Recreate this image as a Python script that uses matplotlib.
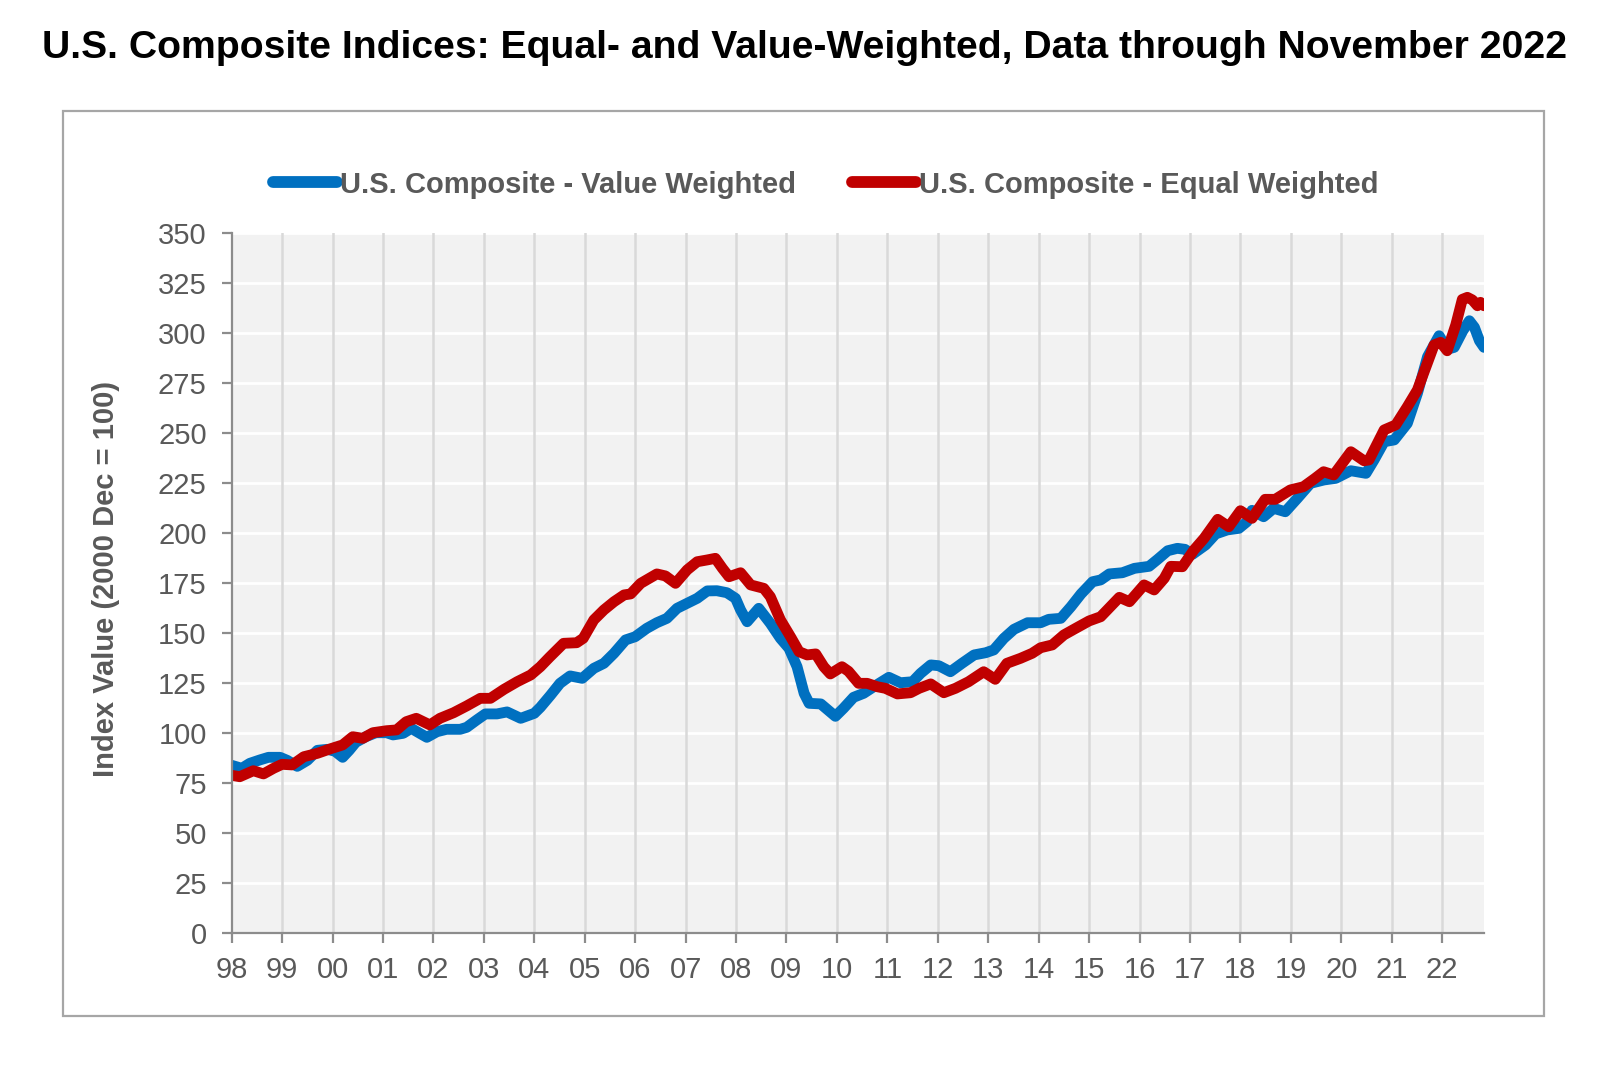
import matplotlib.pyplot as plt
import matplotlib.patches as pch


# values (decimal year, index value)
vw_year = [
    1998.00, 1998.20, 1998.36, 1998.56, 1998.73, 1998.96, 1999.10, 1999.30, 1999.50, 1999.70,
    1999.90, 2000.05, 2000.20, 2000.33, 2000.46, 2000.66, 2000.86, 2001.07, 2001.20, 2001.40,
    2001.56, 2001.73, 2001.87, 2002.07, 2002.26, 2002.53, 2002.66, 2002.86, 2003.03, 2003.26,
    2003.46, 2003.73, 2004.00, 2004.12, 2004.32, 2004.51, 2004.71, 2004.95, 2005.18, 2005.38,
    2005.58, 2005.81, 2006.00, 2006.23, 2006.43, 2006.63, 2006.83, 2007.03, 2007.23, 2007.43,
    2007.62, 2007.82, 2007.99, 2008.09, 2008.22, 2008.45, 2008.68, 2008.88, 2009.05, 2009.21,
    2009.35, 2009.45, 2009.68, 2009.97, 2010.13, 2010.33, 2010.53, 2010.73, 2011.03, 2011.26,
    2011.50, 2011.66, 2011.86, 2012.02, 2012.25, 2012.48, 2012.72, 2012.95, 2013.11, 2013.31,
    2013.51, 2013.78, 2014.04, 2014.20, 2014.44, 2014.64, 2014.84, 2015.07, 2015.23, 2015.40,
    2015.66, 2015.90, 2016.19, 2016.36, 2016.56, 2016.75, 2016.90, 2017.05, 2017.31, 2017.51,
    2017.74, 2017.97, 2018.13, 2018.23, 2018.46, 2018.66, 2018.89, 2019.13, 2019.39, 2019.66,
    2019.89, 2020.19, 2020.49, 2020.65, 2020.85, 2021.05, 2021.31, 2021.51, 2021.71, 2021.94,
    2022.10, 2022.24, 2022.41, 2022.54, 2022.64, 2022.74, 2022.83,
]
vw_value = [
    84.0, 82.5, 85.0, 86.7, 88.0, 88.0, 86.5, 83.5, 86.5, 91.5,
    92.0, 91.0, 88.0, 91.5, 95.5, 98.3, 100.3, 100.3, 99.2, 100.0,
    102.5, 100.0, 98.0, 100.8, 102.0, 102.0, 103.0, 106.7, 109.7, 109.7,
    110.7, 107.5, 110.0, 113.0, 119.0, 125.0, 128.7, 127.5, 132.5, 135.0,
    140.0, 146.7, 148.3, 152.5, 155.3, 157.5, 162.5, 165.0, 167.5, 171.2,
    171.3, 170.3, 167.5, 161.7, 155.8, 162.5, 155.0, 147.5, 142.5, 133.3,
    120.0, 115.0, 114.7, 108.5, 112.5, 118.0, 120.0, 123.3, 128.0, 125.3,
    125.8, 130.0, 134.2, 133.8, 130.8, 135.0, 139.2, 140.3, 141.7, 147.5,
    152.0, 155.3, 155.3, 157.0, 157.5, 163.3, 169.7, 175.8, 176.7, 179.7,
    180.3, 182.5, 183.5, 187.0, 191.3, 192.5, 192.0, 189.5, 194.2, 199.7,
    201.7, 202.5, 205.8, 211.5, 208.3, 212.5, 210.8, 217.5, 225.0, 226.7,
    227.5, 231.3, 230.0, 236.7, 245.8, 246.7, 255.0, 270.0, 288.3, 298.8,
    292.0, 293.0, 301.3, 306.3, 303.0, 296.3, 293.0,
]

ew_year = [
    1998.00, 1998.16, 1998.43, 1998.63, 1998.83, 1999.00, 1999.20, 1999.43, 1999.70, 1999.95,
    2000.20, 2000.40, 2000.60, 2000.80, 2001.07, 2001.27, 2001.46, 2001.66, 2001.93, 2002.13,
    2002.40, 2002.66, 2002.93, 2003.13, 2003.40, 2003.66, 2003.93, 2004.12, 2004.30, 2004.58,
    2004.84, 2004.97, 2005.18, 2005.38, 2005.58, 2005.78, 2005.91, 2006.11, 2006.43, 2006.60,
    2006.80, 2007.03, 2007.23, 2007.43, 2007.59, 2007.73, 2007.86, 2008.09, 2008.29, 2008.55,
    2008.68, 2008.88, 2009.08, 2009.25, 2009.41, 2009.58, 2009.74, 2009.87, 2010.10, 2010.23,
    2010.43, 2010.60, 2010.80, 2010.96, 2011.20, 2011.46, 2011.63, 2011.86, 2012.12, 2012.35,
    2012.61, 2012.91, 2013.14, 2013.37, 2013.64, 2013.87, 2014.04, 2014.27, 2014.50, 2014.77,
    2015.00, 2015.23, 2015.36, 2015.60, 2015.80, 2016.09, 2016.29, 2016.49, 2016.62, 2016.85,
    2017.08, 2017.28, 2017.55, 2017.77, 2018.00, 2018.23, 2018.49, 2018.69, 2018.99, 2019.25,
    2019.48, 2019.65, 2019.85, 2020.19, 2020.45, 2020.55, 2020.85, 2021.08, 2021.31, 2021.51,
    2021.68, 2021.84, 2021.97, 2022.10, 2022.27, 2022.40, 2022.50, 2022.60, 2022.70, 2022.76,
    2022.83,
]
ew_value = [
    79.0, 78.3, 81.3, 79.7, 82.5, 84.5, 84.2, 88.3, 90.0, 92.2,
    94.2, 98.3, 97.5, 100.3, 101.3, 101.7, 105.8, 107.5, 104.2, 107.5,
    110.3, 113.7, 117.5, 117.5, 122.0, 125.8, 129.2, 133.3, 138.0, 145.0,
    145.3, 147.5, 156.7, 161.7, 165.8, 169.2, 169.7, 175.0, 179.7, 178.7,
    175.0, 181.7, 185.8, 186.7, 187.5, 182.5, 178.3, 180.3, 174.2, 172.5,
    168.3, 156.7, 148.3, 140.8, 139.2, 139.7, 133.3, 129.7, 133.3, 131.0,
    125.0, 125.0, 123.3, 122.5, 119.7, 120.3, 122.5, 124.7, 120.3, 122.5,
    125.8, 130.8, 127.0, 135.0, 137.5, 140.0, 142.8, 144.2, 149.2, 153.0,
    156.2, 158.3, 161.7, 168.0, 165.8, 174.2, 171.7, 177.5, 183.5, 183.3,
    191.7, 197.5, 207.0, 203.3, 211.3, 207.5, 217.0, 217.0, 221.7, 223.3,
    227.5, 230.8, 229.2, 240.8, 236.3, 236.7, 251.7, 254.2, 263.3, 271.7,
    283.3, 294.2, 295.5, 291.3, 304.2, 317.0, 318.0, 316.7, 313.8, 315.5,
    313.8,
]

tick_years = list(range(1998, 2023))
tick_labels = ['%02d' % (y % 100) for y in tick_years]
y_ticks = list(range(0, 351, 25))

title = 'U.S. Composite Indices: Equal- and Value-Weighted, Data through November 2022'
label_vw = 'U.S. Composite - Value Weighted'
label_ew = 'U.S. Composite - Equal Weighted'
label_y = 'Index Value (2000 Dec = 100)'


plt.rcParams['font.family'] = ['Liberation Sans', 'DejaVu Sans']
text_grey = '#595959'
axis_grey = '#8c8c8c'

fig = plt.figure(figsize=(16, 10.67), dpi=100)

# outer frame around the chart area
frame = pch.Rectangle((0.0392, 0.0481), 0.9258, 0.8482, transform=fig.transFigure,
                      fill=False, edgecolor='#a6a6a6', linewidth=1.6)
fig.patches.append(frame)

ax = fig.add_axes([0.1448, 0.1253, 0.7827, 0.656])
ax.set_facecolor('#f2f2f2')

line_vw, = ax.plot(vw_year, vw_value, color='#0070c0', linewidth=7.8,
                   solid_joinstyle='round', solid_capstyle='round', label=label_vw, zorder=3)
line_ew, = ax.plot(ew_year, ew_value, color='#c00000', linewidth=7.8,
                   solid_joinstyle='round', solid_capstyle='round', label=label_ew, zorder=4)

ax.set_xlim(1998, vw_year[-1])
ax.set_ylim(0, 350)
ax.set_xticks(tick_years)
ax.set_xticklabels(tick_labels)
ax.set_yticks(y_ticks)

# white horizontal grid, grey vertical grid
for v in y_ticks[1:]:
    ax.axhline(v, color='white', linewidth=2, zorder=1)
for t in tick_years[1:]:
    ax.axvline(t, color='#d9d9d9', linewidth=1.8, zorder=1)

for side in ['top', 'right']:
    ax.spines[side].set_visible(False)
for side in ['left', 'bottom']:
    ax.spines[side].set_color(axis_grey)
    ax.spines[side].set_linewidth(1.6)
    ax.spines[side].set_zorder(5)

ax.tick_params(axis='both', colors=axis_grey, labelcolor=text_grey, labelsize=21,
               length=7, width=1.6, direction='out')
ax.tick_params(axis='y', pad=11)
ax.tick_params(axis='x', pad=9)

fig.text(0.066, 0.4577, label_y, rotation=90, ha='center', va='center',
         fontsize=21, fontweight='bold', color=text_grey)

fig.text(0.503, 0.955, title, ha='center', va='center', fontsize=28.2, fontweight='bold', color='black')

leg = fig.legend(handles=[line_vw, line_ew], loc='center', bbox_to_anchor=(0.516, 0.827),
                 ncol=2, frameon=False, fontsize=21, handlelength=2.2, handletextpad=0.1,
                 columnspacing=1.9, borderpad=0)
for txt in leg.get_texts():
    txt.set_color(text_grey)
    txt.set_fontweight('bold')
for h in leg.legend_handles:
    h.set_linewidth(8.5)
    h.set_solid_capstyle('round')

fig.savefig('out.png', dpi=100)
